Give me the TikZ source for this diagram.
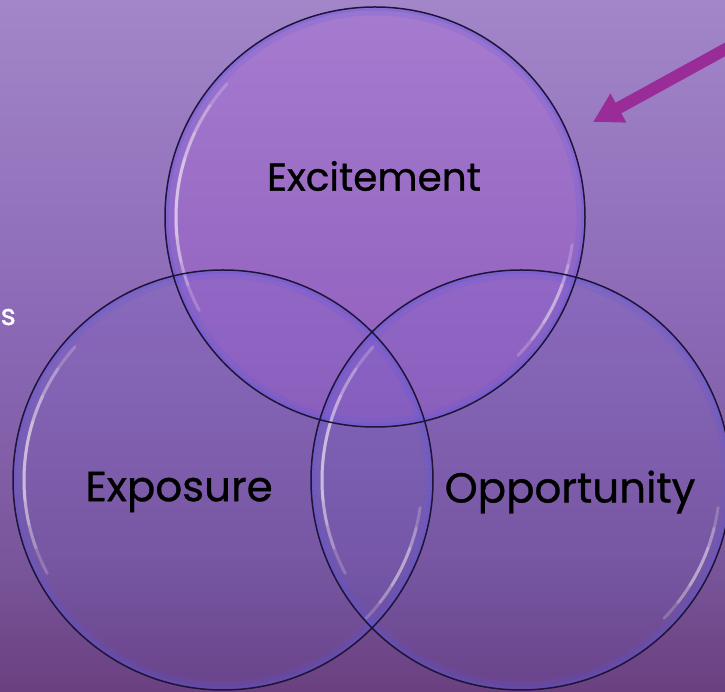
\documentclass[tikz,border=0pt]{standalone}
\usepackage{fontspec}
\setmainfont{Poppins}
\newfontfamily\lblfont{Poppins}[FakeBold=0.8]
\usetikzlibrary{arrows.meta}
\definecolor{bgA}{HTML}{A286C9}
\definecolor{bgB}{HTML}{8C69B6}
\definecolor{bgC}{HTML}{7A579C}
\definecolor{bgD}{HTML}{6A4080}
\definecolor{magfill}{HTML}{B45CE6}
\definecolor{bluefill}{HTML}{6A5ED8}
\definecolor{ringline}{HTML}{1E1438}
\definecolor{glowcol}{HTML}{5A58E0}
\definecolor{arrowcol}{HTML}{9A2C98}
\pgfdeclareverticalshading{bgshade}{100bp}{color(0bp)=(bgD); color(25bp)=(bgD); color(35bp)=(bgC); color(52bp)=(bgB); color(75bp)=(bgA); color(100bp)=(bgA)}
\tikzset{
  bubble/.style={circle, minimum size=420pt, inner sep=0pt},
  topfill/.style={fill=magfill, fill opacity=0.24},
  botfill/.style={fill=bluefill, fill opacity=0.12},
  glowring/.style={draw=glowcol, line width=7pt, draw opacity=0.16},
  glowthin/.style={draw=glowcol, line width=3pt, draw opacity=0.28},
  outline/.style={draw=ringline, line width=1.5pt},
  hilite/.style={draw=white, line width=3pt, draw opacity=0.2, line cap=round},
  lbl/.style={font=\lblfont\fontsize{42}{50}\selectfont, text=black, inner sep=0pt},
  pointer/.style={draw=arrowcol, line width=12pt, -{Triangle[length=29pt,width=31pt]}}
}
\begin{document}
\begin{tikzpicture}[x=1pt,y=1pt]
\useasboundingbox (0,0) rectangle (725,692);
\shade[shading=bgshade] (0,0) rectangle (725,692);

% bubbles
\node[bubble, topfill] (exc) at (375,475) {};
\node[bubble, botfill] (expo) at (223,212) {};
\node[bubble, botfill] (opp) at (521,212) {};

% inner glow rims
\foreach \c in {exc,expo,opp}{
  \draw[glowring] (\c.center) circle[radius=205];
  \draw[glowthin] (\c.center) circle[radius=208];
}

% highlights
\foreach \c in {exc,expo,opp}{
  \draw[hilite] (\c.center) ++(138:199) arc[start angle=138, end angle=208, radius=199];
  \draw[hilite] (\c.center) ++(146:199) arc[start angle=146, end angle=200, radius=199];
  \draw[hilite] (\c.center) ++(155:199) arc[start angle=155, end angle=193, radius=199];
  \draw[hilite] (\c.center) ++(163:199) arc[start angle=163, end angle=186, radius=199];
  \draw[hilite] (\c.center) ++(-8:199) arc[start angle=-8, end angle=-44, radius=199];
  \draw[hilite] (\c.center) ++(-14:199) arc[start angle=-14, end angle=-38, radius=199];
  \draw[hilite] (\c.center) ++(-20:199) arc[start angle=-20, end angle=-32, radius=199];
}

% outlines
\foreach \c in {exc,expo,opp}{
  \draw[outline] (\c.center) circle[radius=210];
}

% labels
\node[lbl, font=\lblfont\fontsize{39}{46}\selectfont] (texc) at (374,516) {Excitement};
\node[lbl] (texpo) at (179,200) {Exposure};
\node[lbl] (topp) at (570,200) {Opportunity};
\node[anchor=base west, inner sep=0pt, text=white, font=\lblfont\fontsize{29}{34}\selectfont] (cut) at (0.5,367) {s};

% arrow
\coordinate (arrS) at (735,648);
\coordinate (arrT) at (593,570);
\draw[pointer] (arrS) -- (arrT);
\end{tikzpicture}
\end{document}
